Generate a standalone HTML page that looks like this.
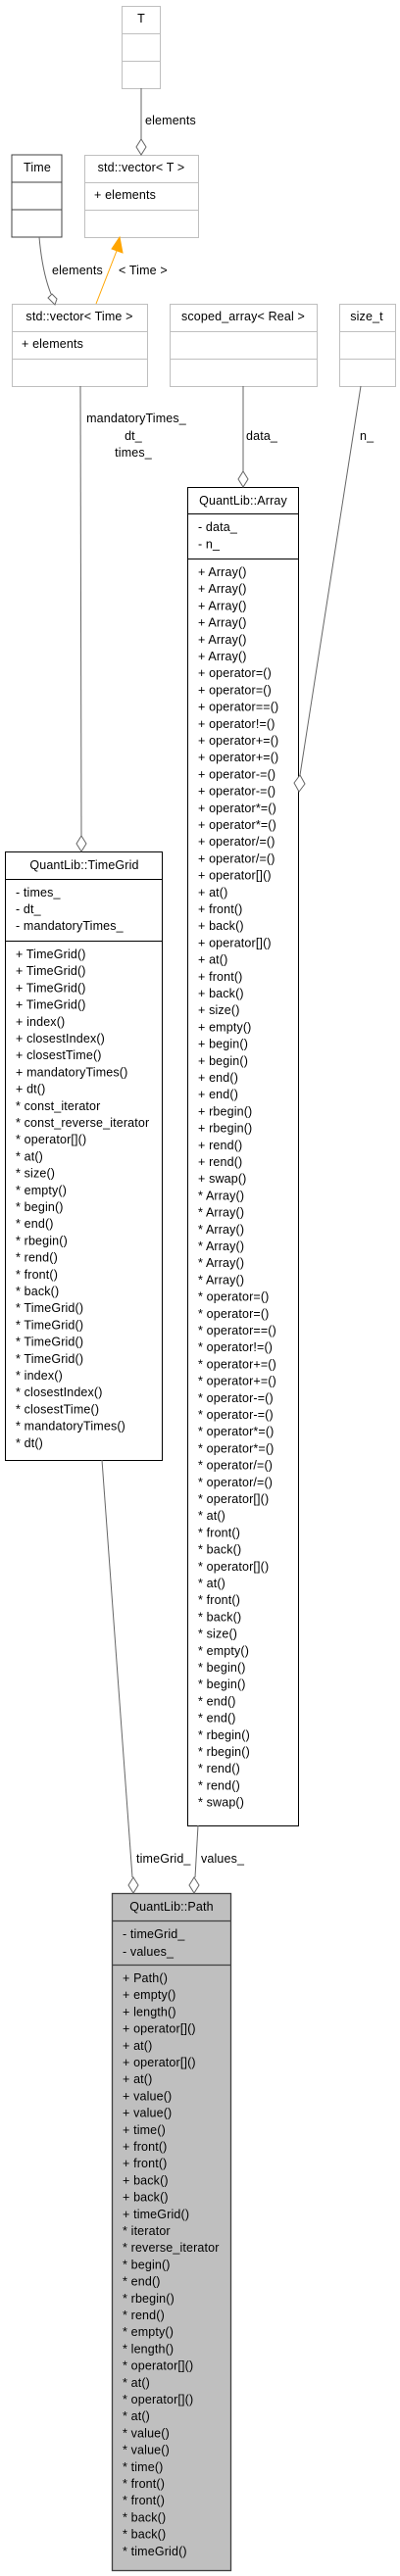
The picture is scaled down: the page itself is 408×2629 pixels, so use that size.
<!DOCTYPE html>
<html><head><meta charset="utf-8"><style>
html,body{margin:0;padding:0;background:#fff;}
svg{display:block;font-family:"Liberation Sans",Helvetica,sans-serif;font-size:12.5px;letter-spacing:0.15px;}
</style></head><body>
<svg width="408" height="2629" viewBox="0 0 408 2629" xmlns="http://www.w3.org/2000/svg">
<g fill="#fff" stroke="#bfbfbf" stroke-width="1">
<rect x="124.5" y="6.5" width="39" height="84"/><line x1="124" y1="34.5" x2="164" y2="34.5"/><line x1="124" y1="62.5" x2="164" y2="62.5"/>
<rect x="86.5" y="158.5" width="116" height="84"/><line x1="86" y1="186.5" x2="203" y2="186.5"/><line x1="86" y1="214.5" x2="203" y2="214.5"/>
<rect x="12.5" y="310.5" width="138" height="84"/><line x1="12" y1="338.5" x2="151" y2="338.5"/><line x1="12" y1="366.5" x2="151" y2="366.5"/>
<rect x="173.5" y="310.5" width="150" height="84"/><line x1="173" y1="338.5" x2="324" y2="338.5"/><line x1="173" y1="366.5" x2="324" y2="366.5"/>
<rect x="346.5" y="310.5" width="57" height="84"/><line x1="346" y1="338.5" x2="404" y2="338.5"/><line x1="346" y1="366.5" x2="404" y2="366.5"/>
</g>
<g fill="#fff" stroke="#404040" stroke-width="1">
<rect x="12" y="158" width="51" height="84"/><line x1="12" y1="186" x2="63" y2="186"/><line x1="12" y1="214" x2="63" y2="214"/>
</g>
<g fill="#fff" stroke="#000" stroke-width="1">
<rect x="191.5" y="497.5" width="113" height="1366"/><line x1="191" y1="524.5" x2="305" y2="524.5"/><line x1="191" y1="570.5" x2="305" y2="570.5"/>
<rect x="5.5" y="869.5" width="160" height="621"/><line x1="5" y1="897.5" x2="166" y2="897.5"/><line x1="5" y1="960.5" x2="166" y2="960.5"/>
</g>
<g fill="#bfbfbf" stroke="#404040" stroke-width="1.3">
<rect x="114.5" y="1932.5" width="121" height="691"/><line x1="114" y1="1960.5" x2="236" y2="1960.5"/><line x1="114" y1="2005.5" x2="236" y2="2005.5"/>
</g>
<g fill="none" stroke="#666" stroke-width="1">
<line x1="144" y1="90" x2="144" y2="142"/>
<path d="M40 242 C42 265 46 285 52 300"/>
<line x1="82" y1="394" x2="83" y2="853"/>
<line x1="248" y1="394" x2="248" y2="481"/>
<line x1="368" y1="394" x2="306" y2="791"/>
<line x1="104" y1="1490" x2="135" y2="1916"/>
<line x1="202" y1="1863" x2="199" y2="1916"/>
</g>
<g fill="#fff" stroke="#666" stroke-width="1">
<polygon points="144,142 149,150 144,158 139,150"/>
<polygon points="53,300 58,305 56,311 49,304"/>
<polygon points="83,853 88,861 83,869 78,861"/>
<polygon points="248,481 253,489 248,497 243,489"/>
<polygon points="306,791 311,800 305,808 300,799"/>
<polygon points="136,1916 141,1924 136,1932 131,1924"/>
<polygon points="198,1916 203,1924 198,1932 193,1924"/>
</g>
<line x1="98" y1="310" x2="119" y2="256" stroke="#ffa500" stroke-width="1"/>
<polygon points="122,242 125,258 114,254" fill="#ffa500" stroke="#ffa500"/>
<g fill="#000">
<text x="148" y="127">elements</text>
<text x="53" y="280">elements</text>
<text x="121" y="280">&lt; Time &gt;</text>
<text x="139" y="431" text-anchor="middle">mandatoryTimes_</text>
<text x="136" y="449" text-anchor="middle">dt_</text>
<text x="136" y="466" text-anchor="middle">times_</text>
<text x="251" y="449">data_</text>
<text x="367" y="449">n_</text>
<text x="139" y="1901">timeGrid_</text>
<text x="205" y="1901">values_</text>
<text x="144" y="23" text-anchor="middle">T</text>
<text x="144" y="175" text-anchor="middle">std::vector&lt; T &gt;</text>
<text x="96" y="203">+ elements</text>
<text x="38" y="175" text-anchor="middle">Time</text>
<text x="81" y="327" text-anchor="middle">std::vector&lt; Time &gt;</text>
<text x="22" y="355">+ elements</text>
<text x="248" y="327" text-anchor="middle">scoped_array&lt; Real &gt;</text>
<text x="374" y="327" text-anchor="middle">size_t</text>
<text x="248" y="515" text-anchor="middle">QuantLib::Array</text>
<text x="86" y="887" text-anchor="middle">QuantLib::TimeGrid</text>
<text x="175" y="1950" text-anchor="middle">QuantLib::Path</text>
<text y="542"><tspan x="202">- data_</tspan><tspan x="202" dy="17.5">- n_</tspan></text>
<text y="571"><tspan x="202" dy="17">+ Array()</tspan><tspan x="202" dy="17.2">+ Array()</tspan><tspan x="202" dy="17.2">+ Array()</tspan><tspan x="202" dy="17.2">+ Array()</tspan><tspan x="202" dy="17.2">+ Array()</tspan><tspan x="202" dy="17.2">+ Array()</tspan><tspan x="202" dy="17.2">+ operator=()</tspan><tspan x="202" dy="17.2">+ operator=()</tspan><tspan x="202" dy="17.2">+ operator==()</tspan><tspan x="202" dy="17.2">+ operator!=()</tspan><tspan x="202" dy="17.2">+ operator+=()</tspan><tspan x="202" dy="17.2">+ operator+=()</tspan><tspan x="202" dy="17.2">+ operator-=()</tspan><tspan x="202" dy="17.2">+ operator-=()</tspan><tspan x="202" dy="17.2">+ operator*=()</tspan><tspan x="202" dy="17.2">+ operator*=()</tspan><tspan x="202" dy="17.2">+ operator/=()</tspan><tspan x="202" dy="17.2">+ operator/=()</tspan><tspan x="202" dy="17.2">+ operator[]()</tspan><tspan x="202" dy="17.2">+ at()</tspan><tspan x="202" dy="17.2">+ front()</tspan><tspan x="202" dy="17.2">+ back()</tspan><tspan x="202" dy="17.2">+ operator[]()</tspan><tspan x="202" dy="17.2">+ at()</tspan><tspan x="202" dy="17.2">+ front()</tspan><tspan x="202" dy="17.2">+ back()</tspan><tspan x="202" dy="17.2">+ size()</tspan><tspan x="202" dy="17.2">+ empty()</tspan><tspan x="202" dy="17.2">+ begin()</tspan><tspan x="202" dy="17.2">+ begin()</tspan><tspan x="202" dy="17.2">+ end()</tspan><tspan x="202" dy="17.2">+ end()</tspan><tspan x="202" dy="17.2">+ rbegin()</tspan><tspan x="202" dy="17.2">+ rbegin()</tspan><tspan x="202" dy="17.2">+ rend()</tspan><tspan x="202" dy="17.2">+ rend()</tspan><tspan x="202" dy="17.2">+ swap()</tspan><tspan x="202" dy="17.2">* Array()</tspan><tspan x="202" dy="17.2">* Array()</tspan><tspan x="202" dy="17.2">* Array()</tspan><tspan x="202" dy="17.2">* Array()</tspan><tspan x="202" dy="17.2">* Array()</tspan><tspan x="202" dy="17.2">* Array()</tspan><tspan x="202" dy="17.2">* operator=()</tspan><tspan x="202" dy="17.2">* operator=()</tspan><tspan x="202" dy="17.2">* operator==()</tspan><tspan x="202" dy="17.2">* operator!=()</tspan><tspan x="202" dy="17.2">* operator+=()</tspan><tspan x="202" dy="17.2">* operator+=()</tspan><tspan x="202" dy="17.2">* operator-=()</tspan><tspan x="202" dy="17.2">* operator-=()</tspan><tspan x="202" dy="17.2">* operator*=()</tspan><tspan x="202" dy="17.2">* operator*=()</tspan><tspan x="202" dy="17.2">* operator/=()</tspan><tspan x="202" dy="17.2">* operator/=()</tspan><tspan x="202" dy="17.2">* operator[]()</tspan><tspan x="202" dy="17.2">* at()</tspan><tspan x="202" dy="17.2">* front()</tspan><tspan x="202" dy="17.2">* back()</tspan><tspan x="202" dy="17.2">* operator[]()</tspan><tspan x="202" dy="17.2">* at()</tspan><tspan x="202" dy="17.2">* front()</tspan><tspan x="202" dy="17.2">* back()</tspan><tspan x="202" dy="17.2">* size()</tspan><tspan x="202" dy="17.2">* empty()</tspan><tspan x="202" dy="17.2">* begin()</tspan><tspan x="202" dy="17.2">* begin()</tspan><tspan x="202" dy="17.2">* end()</tspan><tspan x="202" dy="17.2">* end()</tspan><tspan x="202" dy="17.2">* rbegin()</tspan><tspan x="202" dy="17.2">* rbegin()</tspan><tspan x="202" dy="17.2">* rend()</tspan><tspan x="202" dy="17.2">* rend()</tspan><tspan x="202" dy="17.2">* swap()</tspan></text>
<text y="915"><tspan x="16">- times_</tspan><tspan x="16" dy="17">- dt_</tspan><tspan x="16" dy="17">- mandatoryTimes_</tspan></text>
<text y="961"><tspan x="16" dy="17">+ TimeGrid()</tspan><tspan x="16" dy="17.2">+ TimeGrid()</tspan><tspan x="16" dy="17.2">+ TimeGrid()</tspan><tspan x="16" dy="17.2">+ TimeGrid()</tspan><tspan x="16" dy="17.2">+ index()</tspan><tspan x="16" dy="17.2">+ closestIndex()</tspan><tspan x="16" dy="17.2">+ closestTime()</tspan><tspan x="16" dy="17.2">+ mandatoryTimes()</tspan><tspan x="16" dy="17.2">+ dt()</tspan><tspan x="16" dy="17.2">* const_iterator</tspan><tspan x="16" dy="17.2">* const_reverse_iterator</tspan><tspan x="16" dy="17.2">* operator[]()</tspan><tspan x="16" dy="17.2">* at()</tspan><tspan x="16" dy="17.2">* size()</tspan><tspan x="16" dy="17.2">* empty()</tspan><tspan x="16" dy="17.2">* begin()</tspan><tspan x="16" dy="17.2">* end()</tspan><tspan x="16" dy="17.2">* rbegin()</tspan><tspan x="16" dy="17.2">* rend()</tspan><tspan x="16" dy="17.2">* front()</tspan><tspan x="16" dy="17.2">* back()</tspan><tspan x="16" dy="17.2">* TimeGrid()</tspan><tspan x="16" dy="17.2">* TimeGrid()</tspan><tspan x="16" dy="17.2">* TimeGrid()</tspan><tspan x="16" dy="17.2">* TimeGrid()</tspan><tspan x="16" dy="17.2">* index()</tspan><tspan x="16" dy="17.2">* closestIndex()</tspan><tspan x="16" dy="17.2">* closestTime()</tspan><tspan x="16" dy="17.2">* mandatoryTimes()</tspan><tspan x="16" dy="17.2">* dt()</tspan></text>
<text y="1978"><tspan x="125">- timeGrid_</tspan><tspan x="125" dy="18">- values_</tspan></text>
<text y="2006"><tspan x="125" dy="17">+ Path()</tspan><tspan x="125" dy="17.2">+ empty()</tspan><tspan x="125" dy="17.2">+ length()</tspan><tspan x="125" dy="17.2">+ operator[]()</tspan><tspan x="125" dy="17.2">+ at()</tspan><tspan x="125" dy="17.2">+ operator[]()</tspan><tspan x="125" dy="17.2">+ at()</tspan><tspan x="125" dy="17.2">+ value()</tspan><tspan x="125" dy="17.2">+ value()</tspan><tspan x="125" dy="17.2">+ time()</tspan><tspan x="125" dy="17.2">+ front()</tspan><tspan x="125" dy="17.2">+ front()</tspan><tspan x="125" dy="17.2">+ back()</tspan><tspan x="125" dy="17.2">+ back()</tspan><tspan x="125" dy="17.2">+ timeGrid()</tspan><tspan x="125" dy="17.2">* iterator</tspan><tspan x="125" dy="17.2">* reverse_iterator</tspan><tspan x="125" dy="17.2">* begin()</tspan><tspan x="125" dy="17.2">* end()</tspan><tspan x="125" dy="17.2">* rbegin()</tspan><tspan x="125" dy="17.2">* rend()</tspan><tspan x="125" dy="17.2">* empty()</tspan><tspan x="125" dy="17.2">* length()</tspan><tspan x="125" dy="17.2">* operator[]()</tspan><tspan x="125" dy="17.2">* at()</tspan><tspan x="125" dy="17.2">* operator[]()</tspan><tspan x="125" dy="17.2">* at()</tspan><tspan x="125" dy="17.2">* value()</tspan><tspan x="125" dy="17.2">* value()</tspan><tspan x="125" dy="17.2">* time()</tspan><tspan x="125" dy="17.2">* front()</tspan><tspan x="125" dy="17.2">* front()</tspan><tspan x="125" dy="17.2">* back()</tspan><tspan x="125" dy="17.2">* back()</tspan><tspan x="125" dy="17.2">* timeGrid()</tspan></text>
</g>
</svg>
</body></html>
